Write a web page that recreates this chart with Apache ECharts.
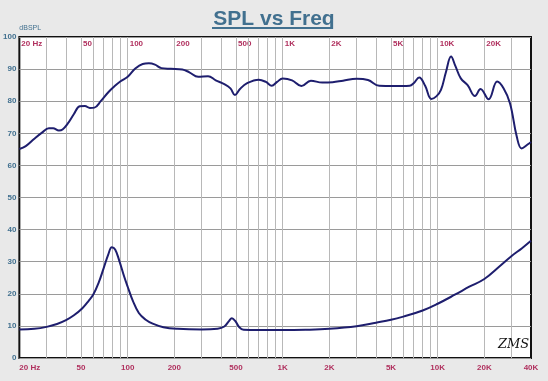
<!DOCTYPE html>
<html><head><meta charset="utf-8">
<script src="https://cdn.jsdelivr.net/npm/echarts@6/dist/echarts.min.js"></script>
<style>html,body{margin:0;padding:0;background:#e9e9e9}#c{width:548px;height:381px}</style>
</head><body><div id="c"></div>
<script>
// Upper curve: SPL (dB) vs frequency (Hz)
const splFreq = [20,22,25,28,31,33,36,38,41,45,49,53,57,61,67,75,82,90,100,112,125,137,150,165,190,225,250,285,330,370,420,460,492,530,590,700,780,850,920,1000,1150,1320,1520,1800,2100,2450,3000,3550,4200,5200,6600,7000,7600,8300,9100,9800,10500,11300,12200,13000,14100,15600,17400,18900,21300,24200,26600,29300,32400,34800,38000,40000];
const splDb   = [65.1,66.0,68.3,70.2,71.6,71.6,70.9,71.2,73.0,76.0,78.4,78.5,77.9,78.0,80.0,82.8,84.6,86.2,87.6,90.2,91.6,91.8,91.4,90.3,90.1,89.9,89.0,87.6,87.8,86.5,85.3,84.0,81.9,83.8,85.6,86.7,86.0,84.8,86.0,87.1,86.5,84.7,86.4,85.8,85.9,86.4,87.0,86.6,84.8,84.7,84.8,85.6,87.4,84.8,80.7,81.5,83.5,89.0,93.9,91.0,87.1,85.0,81.6,83.8,80.6,86.1,84.0,79.3,68.9,65.3,66.5,67.3];
// Lower curve
const lowFreq = [20,25,30,35,40,45,51,56,60,65,70,75,79,83,88,95,100,108,118,130,145,170,210,300,380,420,450,470,495,525,560,700,1000,1400,2000,3000,4000,5000,6000,8000,10000,13000,16000,20000,25000,30000,35000,40000];
const lowDb   = [8.9,9.1,9.7,10.6,11.8,13.3,15.5,17.8,19.8,23.5,28.0,32.3,34.5,33.8,30.5,25.3,22.2,17.8,14.0,12.0,10.7,9.6,9.1,8.9,9.1,9.8,11.5,12.4,11.5,9.6,8.8,8.7,8.7,8.8,9.1,9.9,11.0,11.9,12.9,14.8,16.9,19.8,22.2,24.6,28.5,31.8,34.2,36.5];
// Axis labels and grid frequencies
const bottomLabels = [20,50,100,200,500,1000,2000,5000,10000,20000,40000];
const topLabels = [20,50,100,200,500,1000,2000,5000,10000,20000];
const gridFreqs = [30,40,50,60,70,80,90,100,200,300,400,500,600,700,800,900,1000,2000,3000,4000,5000,6000,7000,8000,9000,10000,20000,30000];
const yMin = 0, yMax = 100, yStep = 10;
const titleText = 'SPL vs Freq';
const yName = 'dBSPL';
const signature = 'ZMS';

function fmtHz(v){
  v = Math.round(v);
  if (v === 20) return '20 Hz';
  if (v >= 1000) return (v/1000) + 'K';
  return String(v);
}
const lblColor = '#b0305e';
const chart = echarts.init(document.getElementById('c'));
chart.setOption({
  backgroundColor: '#e9e9e9',
  animation: false,
  title: {
    text: titleText, left: 'center', top: 4,
    textStyle: {fontSize: 21, fontWeight: 'bold', color: '#41708f', fontFamily: 'Liberation Sans, Arial, sans-serif'}
  },
  graphic: [
    {type: 'rect', shape: {x: 212, y: 27, width: 119, height: 2}, style: {fill: '#41708f'}, z: 10},
    {type: 'text', left: 498, top: 338, style: {text: signature, font: 'italic 13px "DejaVu Serif", serif', fill: '#111'}, z: 10}
  ],
  grid: {left: 16, right: 17, top: 37, bottom: 23, show: true, backgroundColor: '#ffffff', borderColor: '#111', borderWidth: 2},
  xAxis: [
    {type: 'log', logBase: 10, min: 20, max: 40000, position: 'bottom',
     axisLine: {show: false}, axisTick: {show: false}, splitLine: {show: false},
     axisLabel: {customValues: bottomLabels, formatter: fmtHz, color: lblColor, fontSize: 8, fontWeight: 'bold', margin: 6,
       alignMinLabel: 'left', fontFamily: 'Liberation Sans, Arial, sans-serif'}},
    {type: 'log', logBase: 10, min: 20, max: 40000, position: 'top',
     axisLine: {show: false}, axisTick: {show: false}, splitLine: {show: false},
     axisLabel: {customValues: topLabels, formatter: fmtHz, inside: true, align: 'left', padding: [0,0,0,2],
       color: lblColor, fontSize: 8, fontWeight: 'bold', margin: 3, fontFamily: 'Liberation Sans, Arial, sans-serif'}}
  ],
  yAxis: {
    type: 'value', min: yMin, max: yMax, interval: yStep,
    name: yName, nameLocation: 'end', nameGap: 5,
    nameTextStyle: {align: 'left', color: '#41708f', fontSize: 7, fontFamily: 'Liberation Sans, Arial, sans-serif'},
    axisLine: {show: false}, axisTick: {show: false},
    axisLabel: {color: '#41708f', fontSize: 8, fontWeight: 'bold', margin: 3, fontFamily: 'Liberation Sans, Arial, sans-serif'},
    splitLine: {show: true, lineStyle: {color: '#9a9a9a', width: 1}}
  },
  series: [
    {type: 'line', xAxisIndex: 0, data: splFreq.map((f,i)=>[f, splDb[i]]), smooth: 0.4, showSymbol: false,
     lineStyle: {color: '#1e1e6e', width: 2}, z: 3,
     markLine: {silent: true, symbol: 'none', z: 1, label: {show: false},
       lineStyle: {color: '#b8b8b8', width: 1, type: 'solid'},
       data: gridFreqs.map(f => ({xAxis: f}))}},
    {type: 'line', xAxisIndex: 0, data: lowFreq.map((f,i)=>[f, lowDb[i]]), smooth: 0.4, showSymbol: false,
     lineStyle: {color: '#1e1e6e', width: 2}, z: 3}
  ]
});
</script></body></html>
